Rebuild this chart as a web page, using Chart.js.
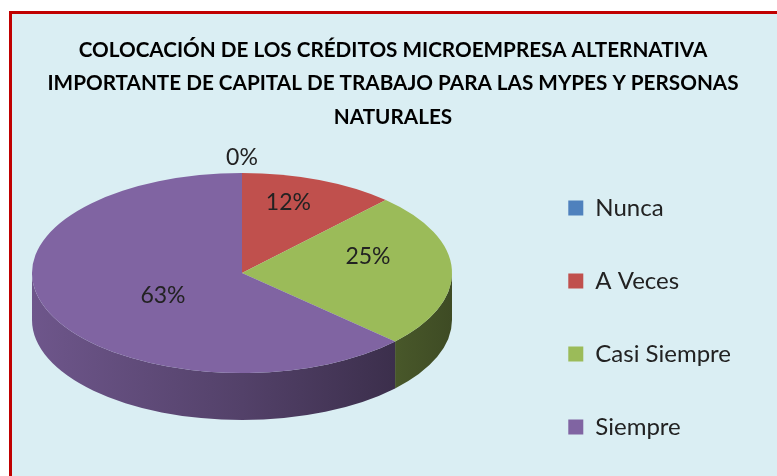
<!DOCTYPE html>
<html>
<head>
<meta charset="utf-8">
<script src="https://cdn.jsdelivr.net/npm/chart.js@4/dist/chart.umd.min.js"></script>
<style>
    html, body { margin: 0; padding: 0; background: #ffffff; overflow: hidden; }
    #marco {
        position: absolute; left: 9px; top: 11px; width: 800px; height: 500px;
        background: #DAEEF3; border: 3px solid #C00000; box-sizing: border-box;
    }
    #graficaCreditos { position: absolute; left: 0; top: 0; }
</style>
</head>
<body>
<div id="marco"></div>
<canvas id="graficaCreditos" width="777" height="476"></canvas>
<script>
// Datos del gráfico
var categorias = ['Nunca', 'A Veces', 'Casi Siempre', 'Siempre'];
var porcentajes = [0, 12, 25, 63];
var colores = ['#4F81BD', '#C0504D', '#9BBB59', '#8064A2'];
var titulo = [
    'COLOCACIÓN DE LOS CRÉDITOS MICROEMPRESA ALTERNATIVA',
    'IMPORTANTE DE CAPITAL DE TRABAJO PARA LAS MYPES Y PERSONAS',
    'NATURALES'
];

// Elipse donde se proyecta el pastel (efecto 3D)
var cx = 242, cy = 273, rx = 210, ry = 100, fondo = 47;

function oscurecer(hex, f) {
    var r = parseInt(hex.substr(1, 2), 16);
    var g = parseInt(hex.substr(3, 2), 16);
    var b = parseInt(hex.substr(5, 2), 16);
    return 'rgb(' + Math.round(r * f) + ',' + Math.round(g * f) + ',' + Math.round(b * f) + ')';
}

var pastel3D = {
    id: 'pastel3D',
    beforeDatasetsDraw: function (chart) {
        var ctx = chart.ctx;
        var arcos = chart.getDatasetMeta(0).data;
        // cara lateral (solo la mitad frontal)
        arcos.forEach(function (arco, i) {
            var ini = Math.max(arco.startAngle, 0);
            var fin = Math.min(arco.endAngle, Math.PI);
            if (fin <= ini) return;
            var grad = ctx.createLinearGradient(cx - rx, 0, cx + rx, 0);
            grad.addColorStop(0, oscurecer(colores[i], 0.86));
            grad.addColorStop(0.5, oscurecer(colores[i], 0.65));
            grad.addColorStop(1, oscurecer(colores[i], 0.40));
            ctx.save();
            ctx.beginPath();
            ctx.ellipse(cx, cy, rx, ry, 0, ini, fin);
            ctx.ellipse(cx, cy + fondo, rx, ry, 0, fin, ini, true);
            ctx.closePath();
            ctx.fillStyle = grad;
            ctx.fill();
            ctx.restore();
        });
        // cara superior: aplastar el círculo en la elipse
        var a = arcos[0];
        var R = a.outerRadius;
        ctx.save();
        ctx.translate(cx, cy);
        ctx.scale(rx / R, ry / R);
        ctx.translate(-a.x, -a.y);
    },
    afterDatasetsDraw: function (chart) {
        var ctx = chart.ctx;
        ctx.restore();
        var arcos = chart.getDatasetMeta(0).data;
        ctx.save();
        ctx.font = '23px Lato';
        ctx.fillStyle = '#222222';
        ctx.textAlign = 'center';
        ctx.textBaseline = 'middle';
        arcos.forEach(function (arco, i) {
            var medio = (arco.startAngle + arco.endAngle) / 2;
            var s = Math.sin(medio);
            var x, y;
            if (porcentajes[i] === 0) {
                x = cx + rx * 1.15 * Math.cos(medio);
                y = cy + ry * 1.15 * s;
            } else {
                // etiquetas de porciones grandes más cerca del centro
                var f = porcentajes[i] > 50 ? 0.41 : 0.6;
                x = cx + rx * f * Math.cos(medio);
                y = cy + ry * f * s + (s < 0 ? -15 : 6);
            }
            ctx.fillText(porcentajes[i] + '%', x, y);
        });
        ctx.restore();
    }
};

var ctx = document.getElementById('graficaCreditos').getContext('2d');

var graficaCreditos = new Chart(ctx, {
    type: 'pie',
    data: {
        labels: categorias,
        datasets: [{
            data: porcentajes,
            backgroundColor: colores,
            borderWidth: 0
        }]
    },
    options: {
        responsive: false,
        animation: false,
        layout: { padding: { left: 45, right: 36, bottom: -12 } },
        plugins: {
            title: {
                display: true,
                text: titulo,
                color: '#000000',
                font: { family: 'Lato', weight: 'bold', size: 20.7, lineHeight: 1.62 },
                padding: { top: 33.5, bottom: 10 }
            },
            legend: {
                position: 'right',
                align: 'end',
                labels: {
                    color: '#222222',
                    font: { family: 'Lato', size: 24 },
                    boxWidth: 15,
                    boxHeight: 15,
                    padding: 49
                }
            },
            tooltip: { enabled: false }
        }
    },
    plugins: [pastel3D]
});
</script>
</body>
</html>
